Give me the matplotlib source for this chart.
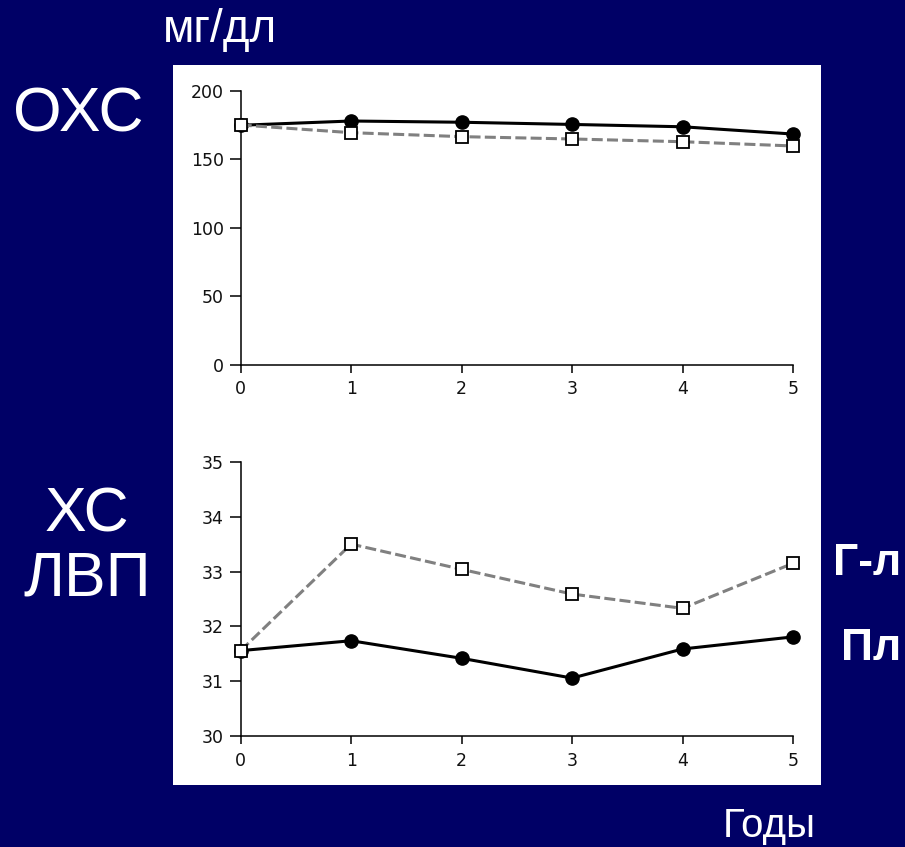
import matplotlib
matplotlib.use('Agg')
from matplotlib import pyplot as plt, patches

years = [0, 1, 2, 3, 4, 5]

# total cholesterol, mg/dl
tc_placebo = [174.8, 177.9, 177.0, 175.4, 173.7, 168.4]
tc_gemfibrozil = [175.0, 169.4, 166.5, 164.8, 162.8, 159.7]

# HDL cholesterol, mg/dl
hdl_placebo = [31.56, 31.74, 31.42, 31.06, 31.59, 31.81]
hdl_gemfibrozil = [31.56, 33.50, 33.04, 32.59, 32.33, 33.15]

top_ticks = [0, 50, 100, 150, 200]
bottom_ticks = [30, 31, 32, 33, 34, 35]

BG = '#000066'
W, H = 905, 847

plt.rcParams['font.family'] = ['Liberation Sans', 'DejaVu Sans']


def fx(px):
    return px / W


def fy(py):
    return 1 - py / H


def _draw_series(ax, placebo, gemfibrozil):
    ax.plot(years, placebo, '-', color='black', lw=2.2, marker='o', ms=9.5,
            mfc='black', mec='black', clip_on=False, zorder=3)
    ax.plot(years, gemfibrozil, '--', color='#808080', lw=2.2, dashes=(3.6, 1.4),
            marker='s', ms=8.5, mfc='white', mec='black', mew=1.3,
            clip_on=False, zorder=4)


def _config_axes(ax, ylim, yticks):
    ax.set_xlim(0, 5)
    ax.set_ylim(ylim)
    ax.set_xticks(years)
    ax.set_yticks(yticks)
    ax.set_facecolor('white')
    for side in ('top', 'right'):
        ax.spines[side].set_visible(False)
    for side in ('left', 'bottom'):
        ax.spines[side].set_linewidth(1.1)
        ax.spines[side].set_color('black')
    ax.tick_params(axis='y', direction='out', length=8, width=1.1, pad=4)
    ax.tick_params(axis='x', direction='out', length=6, width=1.1, pad=5)
    for lbl in ax.get_xticklabels() + ax.get_yticklabels():
        lbl.set_family('DejaVu Sans')
        lbl.set_fontsize(12.5)
        lbl.set_color('#111111')


fig = plt.figure(figsize=(W / 100, H / 100), dpi=100, facecolor=BG)

# white panel behind both charts
fig.add_artist(patches.Rectangle((fx(173), fy(785)), fx(821) - fx(173), fy(65) - fy(785),
                                 transform=fig.transFigure, facecolor='white',
                                 edgecolor='none', zorder=0))

ax_top = fig.add_axes([fx(240.7), fy(365), fx(793) - fx(240.7), fy(90.7) - fy(365)])
_draw_series(ax_top, tc_placebo, tc_gemfibrozil)
_config_axes(ax_top, (0, 200), top_ticks)

ax_bot = fig.add_axes([fx(240.7), fy(736.3), fx(793) - fx(240.7), fy(461.7) - fy(736.3)])
_draw_series(ax_bot, hdl_placebo, hdl_gemfibrozil)
_config_axes(ax_bot, (30, 35), bottom_ticks)

fig.text(fx(163), fy(42), 'мг/дл', color='white', fontsize=33, va='baseline')
fig.text(fx(13), fy(131), 'ОХС', color='white', fontsize=45, va='baseline')
fig.text(fx(87), fy(531), 'ХС', color='white', fontsize=45, va='baseline', ha='center')
fig.text(fx(87), fy(595), 'ЛВП', color='white', fontsize=45, va='baseline', ha='center')
fig.text(fx(901), fy(575), 'Г-л', color='white', fontsize=32, fontweight='bold',
         va='baseline', ha='right')
fig.text(fx(901), fy(660), 'Пл', color='white', fontsize=32, fontweight='bold',
         va='baseline', ha='right')
fig.text(fx(723), fy(837), 'Годы', color='white', fontsize=29, va='baseline')

fig.savefig('out.png', dpi=100, facecolor=BG)
